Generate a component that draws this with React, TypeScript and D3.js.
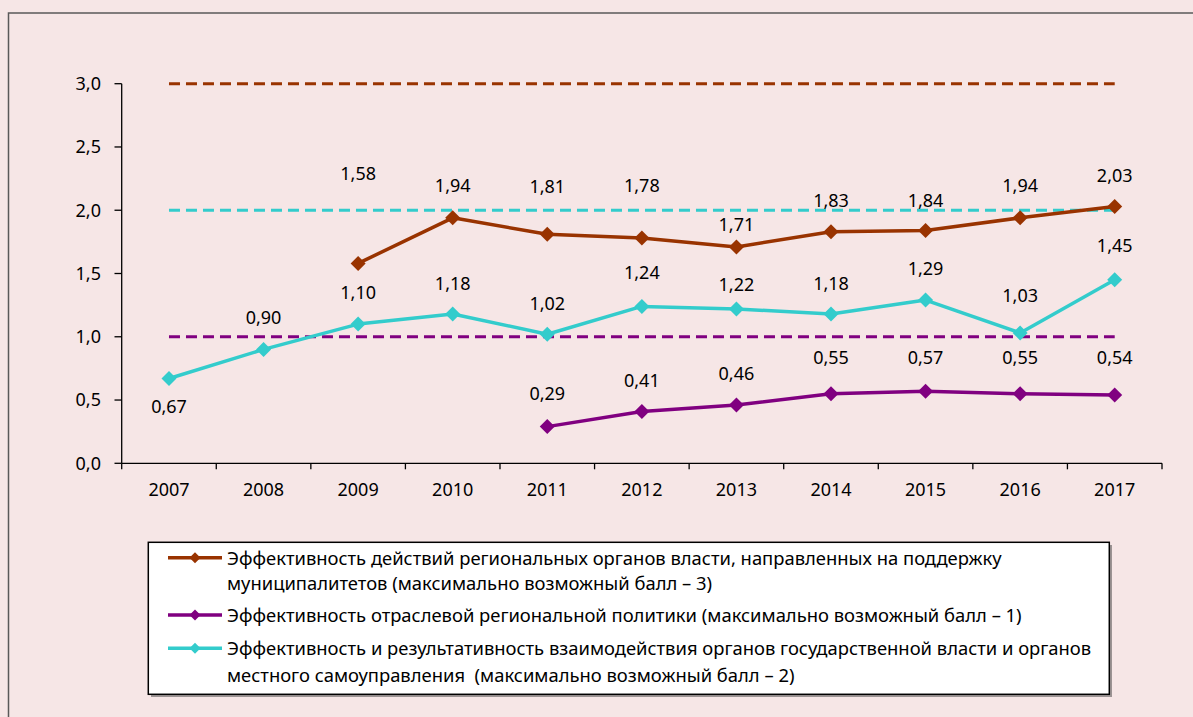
import React from "react";
import * as d3 from "d3";

const years = ["2007", "2008", "2009", "2010", "2011", "2012", "2013", "2014", "2015", "2016", "2017"];
const regionalSupport: (number | null)[] = [null, null, 1.58, 1.94, 1.81, 1.78, 1.71, 1.83, 1.84, 1.94, 2.03];
const sectoralPolicy: (number | null)[] = [null, null, null, null, 0.29, 0.41, 0.46, 0.55, 0.57, 0.55, 0.54];
const interaction: (number | null)[] = [0.67, 0.9, 1.1, 1.18, 1.02, 1.24, 1.22, 1.18, 1.29, 1.03, 1.45];
const maxScores = [3, 1, 2];
const yTicks = [0, 0.5, 1, 1.5, 2, 2.5, 3];

// label vertical offsets in pixels (layout)
const regionalDy = [0, 0, -90, -32, -48, -52, -22, -31, -30, -32, -31];
const sectoralDy = [0, 0, 0, 0, -33, -31, -31, -36, -33, -36, -37];
const interactionDy = [28, -32, -31, -30, -31, -34, -24, -30, -31, -37, -34];

const legendLabels = [
  ["Эффективность действий региональных органов власти, направленных на поддержку", "муниципалитетов (максимально возможный балл – 3)"],
  ["Эффективность отраслевой региональной политики (максимально возможный балл – 1)"],
  ["Эффективность и результативность взаимодействия органов государственной власти и органов", "местного самоуправления  (максимально возможный балл – 2)"],
];

const BROWN = "#993300";
const PURPLE = "#800080";
const CYAN = "#33CCCC";
const FONT = "'Noto Sans', 'DejaVu Sans', sans-serif";

const fmt = (v: number) => v.toFixed(2).replace(".", ",");

export default function App() {
  const W = 1193, H = 717;
  const x = d3.scaleBand<string>().domain(years).range([121.7, 1162]).paddingInner(0).paddingOuter(0);
  const y = d3.scaleLinear().domain([0, 3]).range([463.3, 83.7]);
  const cx = (yr: string) => (x(yr) as number) + x.bandwidth() / 2;

  const series = [
    { values: regionalSupport, color: BROWN, dy: regionalDy, max: maxScores[0] },
    { values: sectoralPolicy, color: PURPLE, dy: sectoralDy, max: maxScores[1] },
    { values: interaction, color: CYAN, dy: interactionDy, max: maxScores[2] },
  ];

  const line = d3
    .line<[string, number | null]>()
    .defined((d) => d[1] != null)
    .x((d) => cx(d[0]))
    .y((d) => y(d[1] as number));

  const diamond = (px: number, py: number, r: number) =>
    `M${px},${py - r}L${px + r},${py}L${px},${py + r}L${px - r},${py}Z`;

  const x0 = cx(years[0]);
  const x1 = cx(years[years.length - 1]);

  const legendRows = [
    { lineY: 557.7, baselines: [565, 590] },
    { lineY: 615, baselines: [622] },
    { lineY: 648.3, baselines: [655, 681.5] },
  ];

  return (
    <svg width={W} height={H} style={{ position: "absolute", left: 0, top: 0 }} fontFamily={FONT}>
      <rect x={0} y={0} width={W} height={H} fill="#F6E6E6" />
      <rect x={8.5} y={13} width={1200} height={720} fill="none" stroke="#595959" strokeWidth={1.5} />

      {/* max score dashed lines */}
      {series.map((s, i) => (
        <line key={"max" + i} x1={x0} x2={x1} y1={y(s.max)} y2={y(s.max)} stroke={s.color} strokeWidth={3} strokeDasharray="11 6" />
      ))}

      {/* y axis */}
      <line x1={121.7} x2={121.7} y1={y(3)} y2={y(0)} stroke="#000" strokeWidth={1.3} />
      {yTicks.map((t) => (
        <g key={"yt" + t}>
          <line x1={114.5} x2={121.7} y1={y(t)} y2={y(t)} stroke="#000" strokeWidth={1.3} />
          <text x={101} y={y(t)} dy="0.35em" textAnchor="end" fontSize={18} fill="#000">
            {t.toFixed(1).replace(".", ",")}
          </text>
        </g>
      ))}

      {/* x axis */}
      <line x1={121.7} x2={1162} y1={y(0)} y2={y(0)} stroke="#000" strokeWidth={1.3} />
      {[...years.map((yr) => x(yr) as number), 1162].map((px, i) => (
        <line key={"xt" + i} x1={px} x2={px} y1={y(0)} y2={y(0) + 6} stroke="#000" strokeWidth={1.3} />
      ))}
      {years.map((yr) => (
        <text key={"xl" + yr} x={cx(yr)} y={490} dy="0.35em" textAnchor="middle" fontSize={18} fill="#000">
          {yr}
        </text>
      ))}

      {/* series */}
      {series.map((s, i) => {
        const pts = years.map((yr, j) => [yr, s.values[j]] as [string, number | null]);
        return (
          <g key={"s" + i}>
            <path d={line(pts) || ""} fill="none" stroke={s.color} strokeWidth={3.5} strokeLinejoin="round" />
            {pts.filter((p) => p[1] != null).map((p) => (
              <path key={p[0]} d={diamond(cx(p[0]), y(p[1] as number), 7.5)} fill={s.color} />
            ))}
            {pts.map((p, j) =>
              p[1] == null ? null : (
                <text key={"l" + p[0]} x={cx(p[0])} y={y(p[1] as number) + s.dy[j]} dy="0.35em" textAnchor="middle" fontSize={18} fill="#000">
                  {fmt(p[1] as number)}
                </text>
              )
            )}
          </g>
        );
      })}

      {/* legend */}
      <rect x={151} y={545} width={961} height={152} fill="#404040" opacity={0.5} />
      <rect x={148.3} y={542.3} width={961} height={152} fill="#fff" stroke="#000" strokeWidth={1.5} />
      {legendRows.map((r, i) => (
        <g key={"lg" + i}>
          <line x1={168} x2={222} y1={r.lineY} y2={r.lineY} stroke={series[i].color} strokeWidth={3.5} />
          <path d={diamond(195, r.lineY, 5.5)} fill={series[i].color} />
          {legendLabels[i].map((t, k) => (
            <text key={k} x={227} y={r.baselines[k]} fontSize={18.4} fill="#000" style={{ whiteSpace: "pre" }}>
              {t}
            </text>
          ))}
        </g>
      ))}
    </svg>
  );
}
